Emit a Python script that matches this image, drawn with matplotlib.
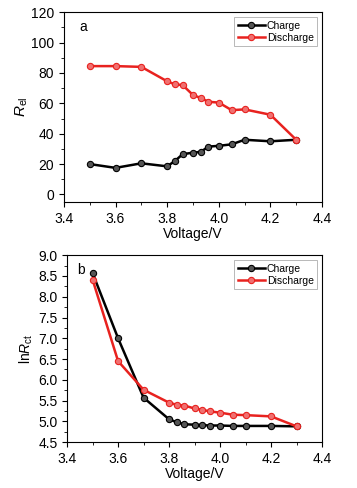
import matplotlib
matplotlib.use("Agg")
import matplotlib.pyplot as plt
from matplotlib.ticker import MultipleLocator

plt.rcParams['font.family'] = ['Liberation Sans', 'DejaVu Sans']
plt.rcParams['mathtext.fontset'] = 'custom'
plt.rcParams['mathtext.rm'] = 'Liberation Sans'
plt.rcParams['mathtext.it'] = 'Liberation Sans:italic'

# dati
voltage = [3.5, 3.6, 3.7, 3.8, 3.83, 3.86, 3.9, 3.93, 3.96, 4.0, 4.05, 4.1, 4.2, 4.3]

rel_charge = [20, 17.5, 20.5, 18.5, 22, 26.5, 27.5, 28, 31.5, 32, 33, 36, 35, 36]
rel_discharge = [84.5, 84.5, 84, 74.5, 72.5, 72, 65.5, 63.5, 61, 60.5, 55.5, 56, 52.5, 36]

lnrct_charge = [8.57, 7.0, 5.57, 5.05, 4.98, 4.93, 4.92, 4.91, 4.90, 4.90, 4.89, 4.89, 4.89, 4.88]
lnrct_discharge = [8.41, 6.45, 5.76, 5.45, 5.40, 5.38, 5.31, 5.28, 5.24, 5.21, 5.16, 5.15, 5.12, 4.88]

fig = plt.figure(figsize=(3.57, 4.88), dpi=100)
ax1 = fig.add_axes([0.179, 0.586, 0.723, 0.389])
ax2 = fig.add_axes([0.188, 0.094, 0.714, 0.383])


def disegna(ax, y_c, y_d):
    ax.plot(voltage, y_c, color='black', lw=1.8, marker='o', ms=4.5,
            mfc='#555555', mec='black', mew=0.8, label='Charge')
    ax.plot(voltage, y_d, color='#e8221f', lw=1.8, marker='o', ms=4.5,
            mfc='#f07070', mec='#e8221f', mew=0.8, label='Discharge')
    ax.set_xlim(3.4, 4.4)
    ax.xaxis.set_major_locator(MultipleLocator(0.2))
    ax.xaxis.set_minor_locator(MultipleLocator(0.1))
    ax.set_xlabel('Voltage/V', fontsize=10, labelpad=1)
    ax.tick_params(which='both', direction='out', labelsize=10, top=False, right=False)
    ax.tick_params(which='major', length=3.5)
    ax.tick_params(which='minor', length=2)
    ax.xaxis.set_major_formatter(plt.FuncFormatter(lambda v, p: f'{v:.1f}'))
    leg = ax.legend(loc='upper right', fontsize=7.5, frameon=True, fancybox=False,
                    edgecolor='#999999', handlelength=2.6, borderpad=0.3,
                    labelspacing=0.2, handletextpad=0.2, borderaxespad=0.5)
    leg.get_frame().set_linewidth(0.6)


disegna(ax1, rel_charge, rel_discharge)
ax1.set_ylim(-5, 120)
ax1.yaxis.set_major_locator(MultipleLocator(20))
ax1.yaxis.set_minor_locator(MultipleLocator(10))
ax1.set_ylabel(r'$R_{\mathrm{el}}$', fontsize=11, labelpad=1)
ax1.text(0.06, 0.92, 'a', transform=ax1.transAxes, fontsize=10, va='center')

disegna(ax2, lnrct_charge, lnrct_discharge)
ax2.set_ylim(4.5, 9.0)
ax2.yaxis.set_major_locator(MultipleLocator(0.5))
ax2.yaxis.set_minor_locator(MultipleLocator(0.25))
ax2.yaxis.set_major_formatter(plt.FuncFormatter(lambda v, p: f'{v:.1f}'))
ax2.set_ylabel(r'ln$R_{\mathrm{ct}}$', fontsize=10, labelpad=2)
ax2.text(0.04, 0.92, 'b', transform=ax2.transAxes, fontsize=10, va='center')

fig.savefig('out.png', dpi=100)
